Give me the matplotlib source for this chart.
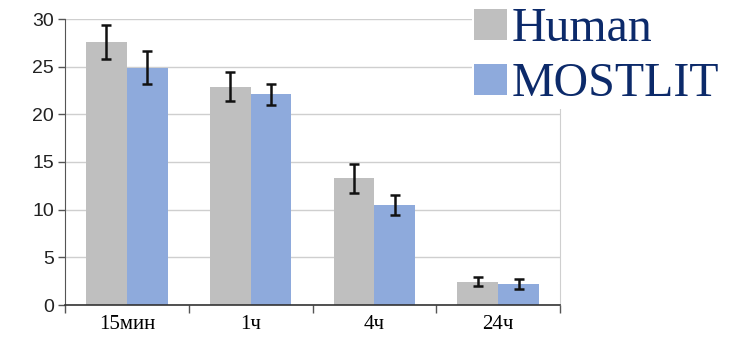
import matplotlib
matplotlib.use("Agg")
import matplotlib.pyplot as plt
import numpy as np
from matplotlib.patches import Patch

categories = ["15мин", "1ч", "4ч", "24ч"]
human = [27.6, 22.9, 13.3, 2.45]
human_err = [1.8, 1.5, 1.5, 0.5]
mostlit = [24.9, 22.1, 10.5, 2.2]
mostlit_err = [1.75, 1.1, 1.05, 0.55]
series_names = ["Human", "MOSTLIT"]
yticks = [0, 5, 10, 15, 20, 25, 30]

gray = "#bfbfbf"
blue = "#8eaadc"

fig = plt.figure(figsize=(7.33, 3.41), dpi=100)
ax = fig.add_axes([65/733, 1-305/341, (560-65)/733, (305-19)/341])

x = np.arange(len(categories))
w = 0.33
ax.bar(x - w/2, human, w, color=gray, zorder=2)
ax.bar(x + w/2, mostlit, w, color=blue, zorder=2)
ax.errorbar(x - w/2, human, yerr=human_err, fmt="none", ecolor="#111111",
            elinewidth=1.8, capsize=3.5, capthick=1.8, zorder=3)
ax.errorbar(x + w/2, mostlit, yerr=mostlit_err, fmt="none", ecolor="#111111",
            elinewidth=1.8, capsize=3.5, capthick=1.8, zorder=3)

ax.set_xlim(-0.5, len(categories) - 0.5)
ax.set_ylim(0, 30)
ax.set_yticks(yticks)
ax.yaxis.grid(True, color="#cfcfcf", linewidth=1.0, zorder=0)
ax.set_axisbelow(True)

ax.set_xticks(np.arange(len(categories) + 1) - 0.5)
ax.set_xticklabels([])
ax.set_xticks(x, minor=True)
ax.set_xticklabels(categories, minor=True, fontfamily="Liberation Serif", fontsize=15)
ax.tick_params(axis="x", which="minor", length=0, pad=7)
ax.tick_params(axis="x", which="major", length=6, width=1, color="#555555", direction="out")
ax.tick_params(axis="y", length=5, width=1, color="#555555", direction="out", pad=3)
for lab in ax.get_yticklabels():
    lab.set_fontfamily("Liberation Sans")
    lab.set_fontsize(14)
    lab.set_color("#222222")

ax.spines["top"].set_visible(False)
ax.spines["right"].set_color("#cfcfcf")
ax.spines["left"].set_color("#555555")
ax.spines["bottom"].set_color("#333333")
ax.spines["bottom"].set_linewidth(1.2)

handles = [Patch(facecolor=gray), Patch(facecolor=blue)]
leg = fig.legend(handles, series_names, loc="upper left",
                 bbox_to_anchor=(472/733, 1 - 5/341), frameon=True,
                 facecolor="white", edgecolor="none", framealpha=1,
                 handlelength=0.68, handleheight=0.6, handletextpad=0.1,
                 labelspacing=0.23, borderpad=0.05, borderaxespad=0,
                 prop={"family": "Liberation Serif", "size": 34.5})
for t in leg.get_texts():
    t.set_color("#0c2a6a")

fig.savefig("out.png", dpi=100)
